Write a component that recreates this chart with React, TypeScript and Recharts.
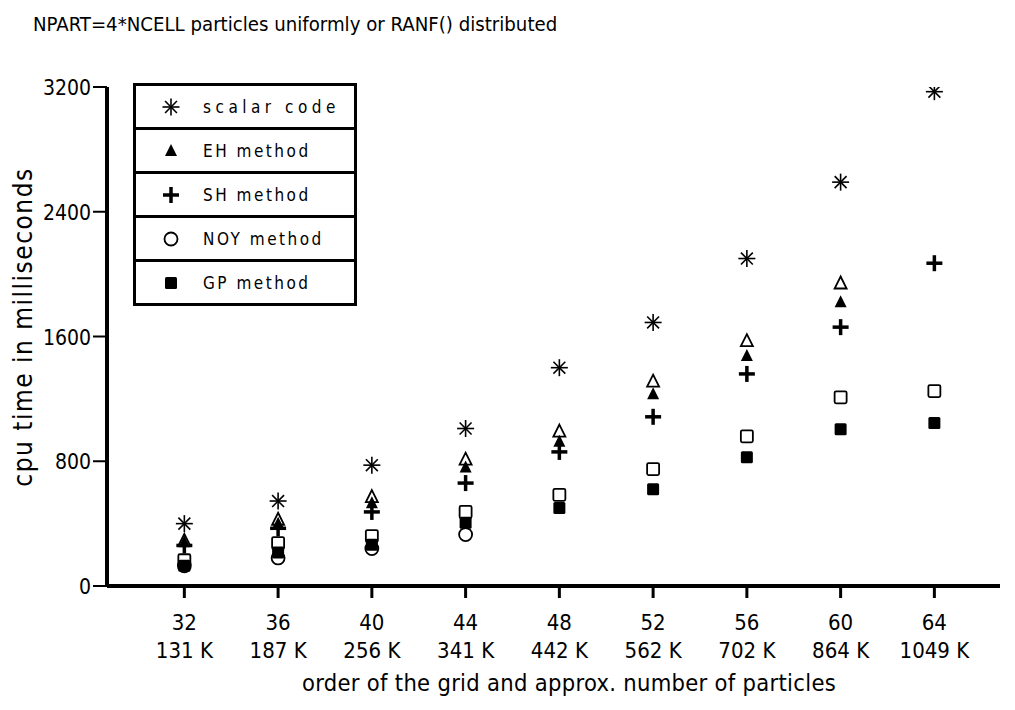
import { ScatterChart, Scatter, XAxis, YAxis } from 'recharts';

// grid order and approx. particle count (x categories)
const gridOrder = [32, 36, 40, 44, 48, 52, 56, 60, 64];
const particleLabels = ['131 K', '187 K', '256 K', '341 K', '442 K', '562 K', '702 K', '864 K', '1049 K'];
const yTicks = [0, 800, 1600, 2400, 3200];

// cpu time in ms
const scalarCode = [400, 545, 775, 1010, 1400, 1690, 2100, 2590, 3170];
const ehMethod = [280, 400, 530, 760, 925, 1230, 1475, 1820, null];
const ehMethodRanf = [290, 425, 570, 810, 990, 1310, 1570, 1940, null];
const shMethod = [260, 370, 475, 660, 860, 1085, 1360, 1660, 2070];
const noyMethod = [130, 180, 240, 330, null, null, null, null, null];
const gpMethod = [130, 215, 265, 405, 500, 620, 825, 1005, 1045];
const gpMethodRanf = [165, 275, 320, 475, 585, 750, 960, 1210, 1250];

const FONT = "'DejaVu Sans Condensed', 'Liberation Sans Narrow', 'DejaVu Sans', sans-serif";

const toPoints = (vals: (number | null)[]) =>
  gridOrder.map((g, i) => ({ x: g, y: vals[i] })).filter((p) => p.y !== null);

const Asterisk = ({ cx, cy }: any) => {
  const r = 8.5;
  const d = r * 0.7;
  return (
    <g stroke="#000" strokeWidth={1.6}>
      <line x1={cx - r} y1={cy} x2={cx + r} y2={cy} />
      <line x1={cx} y1={cy - r} x2={cx} y2={cy + r} />
      <line x1={cx - d} y1={cy - d} x2={cx + d} y2={cy + d} />
      <line x1={cx - d} y1={cy + d} x2={cx + d} y2={cy - d} />
    </g>
  );
};

const TriFilled = ({ cx, cy }: any) => (
  <path d={`M${cx},${cy - 7} L${cx + 6},${cy + 5} L${cx - 6},${cy + 5} Z`} fill="#000" />
);

const TriOpen = ({ cx, cy }: any) => (
  <path d={`M${cx},${cy - 7} L${cx + 6},${cy + 5} L${cx - 6},${cy + 5} Z`} fill="#fff" stroke="#000" strokeWidth={1.8} />
);

const Plus = ({ cx, cy }: any) => (
  <g stroke="#000" strokeWidth={3.5}>
    <line x1={cx - 8} y1={cy} x2={cx + 8} y2={cy} />
    <line x1={cx} y1={cy - 8} x2={cx} y2={cy + 8} />
  </g>
);

const CircleOpen = ({ cx, cy }: any) => (
  <circle cx={cx} cy={cy} r={6.5} fill="#fff" stroke="#000" strokeWidth={1.8} />
);

const SquareFilled = ({ cx, cy }: any) => (
  <rect x={cx - 6} y={cy - 6} width={12} height={12} rx={1.5} fill="#000" />
);

const SquareOpen = ({ cx, cy }: any) => (
  <rect x={cx - 6} y={cy - 6} width={12} height={12} rx={1.5} fill="#fff" stroke="#000" strokeWidth={1.8} />
);

const XTick = ({ x, y, payload }: any) => {
  const i = gridOrder.indexOf(payload.value);
  return (
    <g fontFamily={FONT} fontSize={22} fill="#000">
      <text x={x} y={y + 30} textAnchor="middle" fill="#000">{payload.value}</text>
      <text x={x} y={y + 58} textAnchor="middle" fill="#000">{particleLabels[i]}</text>
    </g>
  );
};

const YTick = ({ x, y, payload }: any) => (
  <text x={x} y={y + 8} textAnchor="end" fontFamily={FONT} fontSize={21} fill="#000">
    {payload.value}
  </text>
);

const legendRows = [
  { label: 'scalar code', Icon: Asterisk, spacing: 4.5 },
  { label: 'EH method', Icon: TriFilled, spacing: 2.5 },
  { label: 'SH method', Icon: Plus, spacing: 2.5 },
  { label: 'NOY method', Icon: CircleOpen, spacing: 2.5 },
  { label: 'GP method', Icon: SquareFilled, spacing: 2.5 },
];

export default function App() {
  return (
    <div style={{ position: 'absolute', left: 0, top: 0, width: 1015, height: 710, background: '#fff', fontFamily: FONT }}>
      <div style={{ position: 'absolute', left: 33, top: 12, fontSize: 20.2, color: '#000', whiteSpace: 'nowrap' }}>
        NPART=4*NCELL particles uniformly or RANF() distributed
      </div>
      <div
        style={{
          position: 'absolute',
          left: 23,
          top: 327,
          transform: 'translate(-50%, -50%) rotate(-90deg)',
          fontSize: 26,
          letterSpacing: 1.5,
          color: '#000',
          whiteSpace: 'nowrap',
        }}
      >
        cpu time in milliseconds
      </div>
      <div
        style={{
          position: 'absolute',
          left: 569,
          top: 683,
          transform: 'translate(-50%, -50%)',
          fontSize: 23.5,
          letterSpacing: 0.3,
          color: '#000',
          whiteSpace: 'nowrap',
        }}
      >
        order of the grid and approx. number of particles
      </div>

      <ScatterChart width={1015} height={710} margin={{ top: 87, right: 15, bottom: 64, left: 47 }}>
        <XAxis
          type="number"
          dataKey="x"
          domain={[28.7, 66.8]}
          ticks={gridOrder}
          allowDataOverflow
          axisLine={{ stroke: '#000', strokeWidth: 4 }}
          tickLine={{ stroke: '#000', strokeWidth: 3 }}
          tickSize={12}
          tick={<XTick />}
          height={60}
        />
        <YAxis
          type="number"
          dataKey="y"
          domain={[0, 3200]}
          ticks={yTicks}
          allowDataOverflow
          axisLine={{ stroke: '#000', strokeWidth: 4 }}
          tickLine={{ stroke: '#000', strokeWidth: 2 }}
          tickSize={14}
          tick={<YTick />}
          width={60}
        />
        <Scatter data={toPoints(noyMethod)} shape={<CircleOpen />} isAnimationActive={false} />
        <Scatter data={toPoints(gpMethodRanf)} shape={<SquareOpen />} isAnimationActive={false} />
        <Scatter data={toPoints(gpMethod)} shape={<SquareFilled />} isAnimationActive={false} />
        <Scatter data={toPoints(shMethod)} shape={<Plus />} isAnimationActive={false} />
        <Scatter data={toPoints(ehMethodRanf)} shape={<TriOpen />} isAnimationActive={false} />
        <Scatter data={toPoints(ehMethod)} shape={<TriFilled />} isAnimationActive={false} />
        <Scatter data={toPoints(scalarCode)} shape={<Asterisk />} isAnimationActive={false} />
      </ScatterChart>

      <div
        style={{
          position: 'absolute',
          left: 133,
          top: 83,
          width: 218,
          border: '3px solid #000',
          background: '#fff',
        }}
      >
        {legendRows.map(({ label, Icon, spacing }, i) => (
          <div
            key={label}
            style={{
              height: 41,
              borderTop: i === 0 ? 'none' : '3px solid #000',
              display: 'flex',
              alignItems: 'center',
              fontSize: 17,
              color: '#000',
            }}
          >
            <svg width={20} height={20} style={{ marginLeft: 25, marginRight: 22 }}>
              <Icon cx={10} cy={10} />
            </svg>
            <span style={{ letterSpacing: spacing }}>{label}</span>
          </div>
        ))}
      </div>
    </div>
  );
}
